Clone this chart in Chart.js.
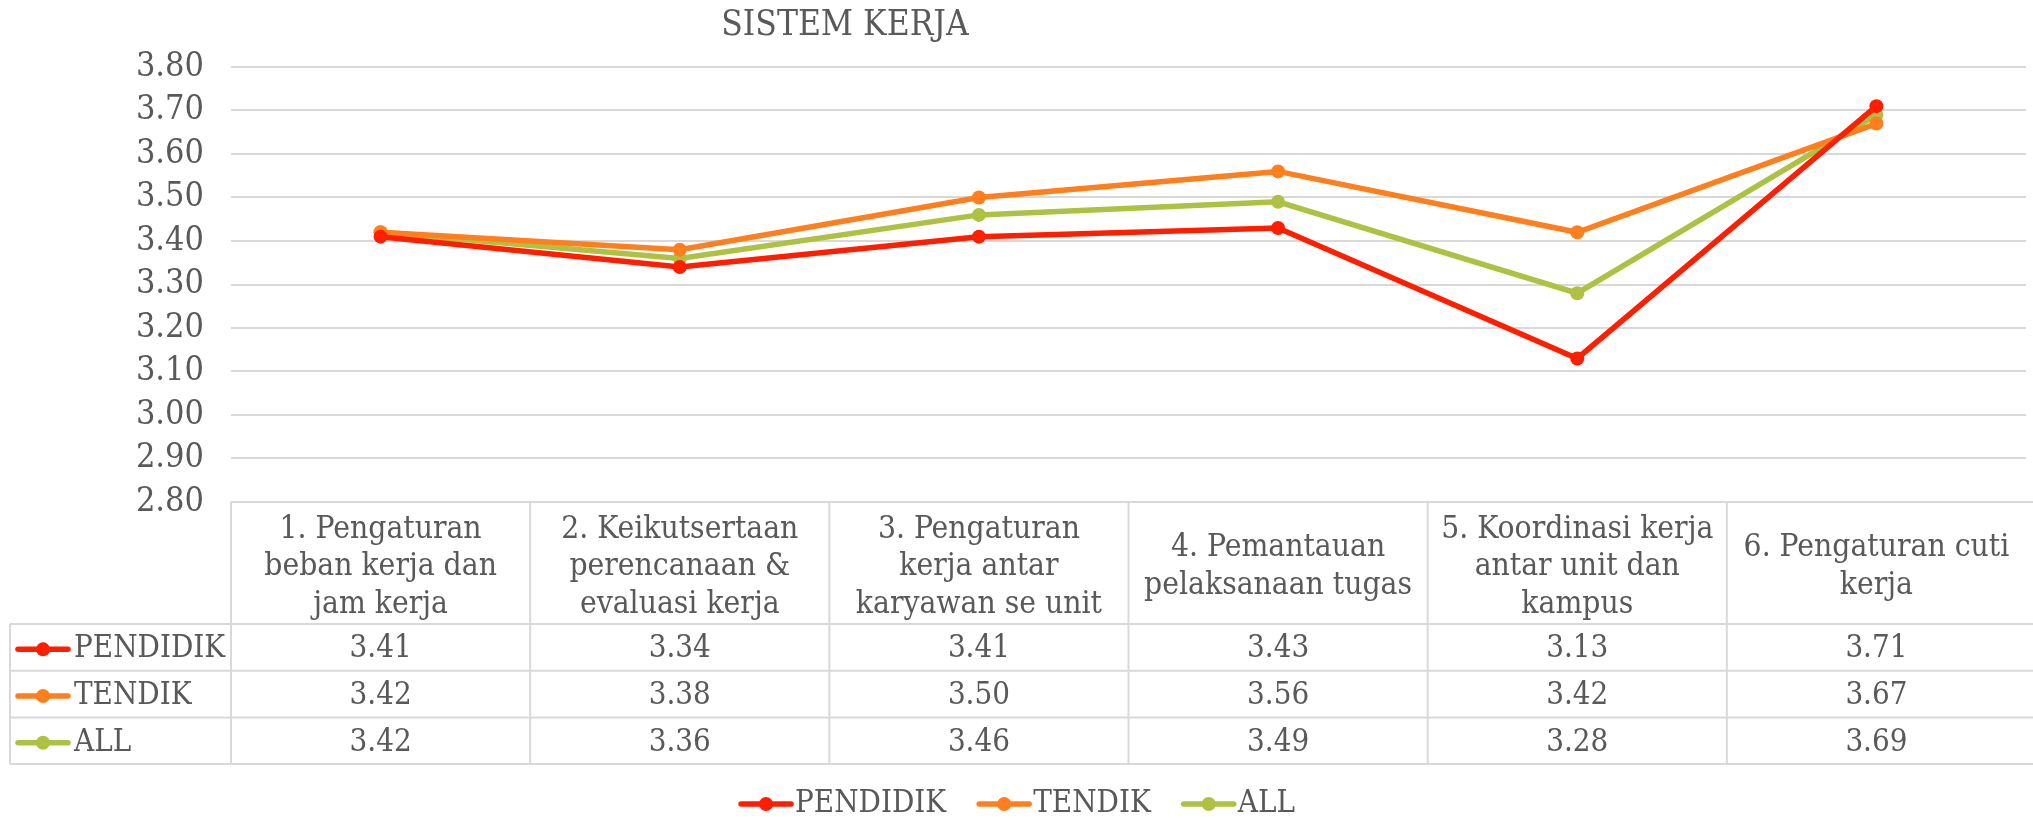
<!DOCTYPE html>
<html>
<head>
<meta charset="utf-8">
<script src="https://cdn.jsdelivr.net/npm/chart.js@4/dist/chart.umd.min.js"></script>
<style>
  html, body { margin: 0; padding: 0; background: #ffffff; }
  #wrap { width: 2033px; height: 819px; }
</style>
</head>
<body>
<div id="wrap"><canvas id="c" width="2033" height="819"></canvas></div>
<script>
const chartTitle = "SISTEM KERJA";
const categories = [
  ["1. Pengaturan", "beban kerja dan", "jam kerja"],
  ["2. Keikutsertaan", "perencanaan &", "evaluasi kerja"],
  ["3. Pengaturan", "kerja antar", "karyawan se unit"],
  ["4. Pemantauan", "pelaksanaan tugas"],
  ["5. Koordinasi kerja", "antar unit dan", "kampus"],
  ["6. Pengaturan cuti", "kerja"]
];
const seriesNames = ["PENDIDIK", "TENDIK", "ALL"];
const pendidik = [3.41, 3.34, 3.41, 3.43, 3.13, 3.71];
const tendik   = [3.42, 3.38, 3.50, 3.56, 3.42, 3.67];
const allVals  = [3.42, 3.36, 3.46, 3.49, 3.28, 3.69];
const seriesColors = ["#FF1E00", "#FF7F1E", "#AEC143"];
const yMin = 2.8, yMax = 3.8, yStep = 0.1;

const FONT = '"DejaVu Serif Condensed", "DejaVu Serif", serif';
const TEXT = '#595959';
const GRID = '#d9d9d9';

function drawMarker(ctx, x, y, color) {
  ctx.save();
  ctx.strokeStyle = color;
  ctx.lineWidth = 5.5;
  ctx.lineCap = 'round';
  ctx.beginPath();
  ctx.moveTo(x + 3, y);
  ctx.lineTo(x + 53, y);
  ctx.stroke();
  ctx.fillStyle = color;
  ctx.beginPath();
  ctx.arc(x + 28, y, 7, 0, Math.PI * 2);
  ctx.fill();
  ctx.restore();
}

const tablePlugin = {
  id: 'tablePlugin',
  afterDraw(chart) {
    const ctx = chart.ctx;
    const xs = chart.scales.x;
    const area = chart.chartArea;
    const n = chart.data.labels.length;
    const step = xs.getPixelForValue(1) - xs.getPixelForValue(0);
    const tableLeft = 10;
    const top = area.bottom;
    const headerBottom = top + 122;
    const rowH = 46.7;
    const bottom = headerBottom + rowH * chart.data.datasets.length;
    const right = chart.width;

    ctx.save();
    // title
    ctx.fillStyle = TEXT;
    ctx.font = '35px ' + FONT;
    ctx.textAlign = 'center';
    ctx.textBaseline = 'middle';
    ctx.fillText(chartTitle, 845, 26);

    // table lines
    ctx.strokeStyle = GRID;
    ctx.lineWidth = 2;
    ctx.beginPath();
    ctx.moveTo(area.left, top); ctx.lineTo(right, top);
    for (let r = 0; r <= chart.data.datasets.length; r++) {
      const y = headerBottom + rowH * r;
      ctx.moveTo(tableLeft, y); ctx.lineTo(right, y);
    }
    ctx.moveTo(tableLeft, headerBottom); ctx.lineTo(tableLeft, bottom);
    for (let i = 0; i < n; i++) {
      const xb = xs.getPixelForValue(i) - step / 2;
      ctx.moveTo(xb, top); ctx.lineTo(xb, bottom);
    }
    ctx.stroke();

    // header text
    ctx.fillStyle = TEXT;
    ctx.font = '31.5px ' + FONT;
    ctx.textAlign = 'center';
    ctx.textBaseline = 'middle';
    const lh = 37.5;
    chart.data.labels.forEach((lab, i) => {
      const lines = Array.isArray(lab) ? lab : [lab];
      const cx = xs.getPixelForValue(i);
      const cy = (top + headerBottom) / 2 + 4;
      lines.forEach((t, k) => {
        ctx.fillText(t, cx, cy + (k - (lines.length - 1) / 2) * lh);
      });
    });

    // rows
    ctx.font = '31px ' + FONT;
    chart.data.datasets.forEach((ds, r) => {
      const cy = headerBottom + rowH * r + rowH / 2 + 2;
      drawMarker(ctx, 15, cy, ds.borderColor);
      ctx.fillStyle = TEXT;
      ctx.textAlign = 'left';
      ctx.fillText(ds.label, 74, cy);
      ctx.textAlign = 'center';
      ds.data.forEach((v, i) => {
        ctx.fillText(v.toFixed(2), xs.getPixelForValue(i), cy);
      });
    });

    // legend
    ctx.font = '31px ' + FONT;
    const markW = 56, gapAfter = 1, itemGap = 30;
    const widths = chart.data.datasets.map(ds => markW + gapAfter + ctx.measureText(ds.label).width);
    const total = widths.reduce((a, b) => a + b, 0) + itemGap * (widths.length - 1);
    let lx = chart.width / 2 - total / 2;
    const ly = 804;
    chart.data.datasets.forEach((ds, r) => {
      drawMarker(ctx, lx, ly, ds.borderColor);
      ctx.fillStyle = TEXT;
      ctx.textAlign = 'left';
      ctx.fillText(ds.label, lx + markW + gapAfter, ly);
      lx += widths[r] + itemGap;
    });
    ctx.restore();
  }
};

const seriesData = [pendidik, tendik, allVals];
const datasets = seriesNames.map((name, i) => ({
  label: name,
  data: seriesData[i],
  borderColor: seriesColors[i],
  backgroundColor: seriesColors[i],
  pointBackgroundColor: seriesColors[i],
  pointBorderColor: seriesColors[i],
  borderWidth: 5.5,
  pointRadius: 7,
  pointBorderWidth: 0,
  tension: 0,
  fill: false
}));

new Chart(document.getElementById('c'), {
  type: 'line',
  data: { labels: categories, datasets: datasets },
  options: {
    responsive: false,
    animation: false,
    devicePixelRatio: 1,
    layout: { padding: { top: 67, right: 3, bottom: 0, left: 0 } },
    plugins: {
      legend: { display: false },
      title: { display: false },
      tooltip: { enabled: false }
    },
    scales: {
      x: {
        offset: true,
        grid: { display: false, drawTicks: false },
        border: { display: false },
        ticks: { display: false },
        afterFit: (s) => { s.height = 317; }
      },
      y: {
        min: yMin,
        max: yMax,
        grid: { color: GRID, lineWidth: 2, drawTicks: false },
        border: { display: false },
        ticks: {
          stepSize: yStep,
          autoSkip: false,
          padding: 27,
          color: TEXT,
          font: { family: FONT, size: 34 },
          callback: (v) => Number(v).toFixed(2)
        },
        afterFit: (s) => { s.width = 231; }
      }
    }
  },
  plugins: [tablePlugin]
});
</script>
</body>
</html>
